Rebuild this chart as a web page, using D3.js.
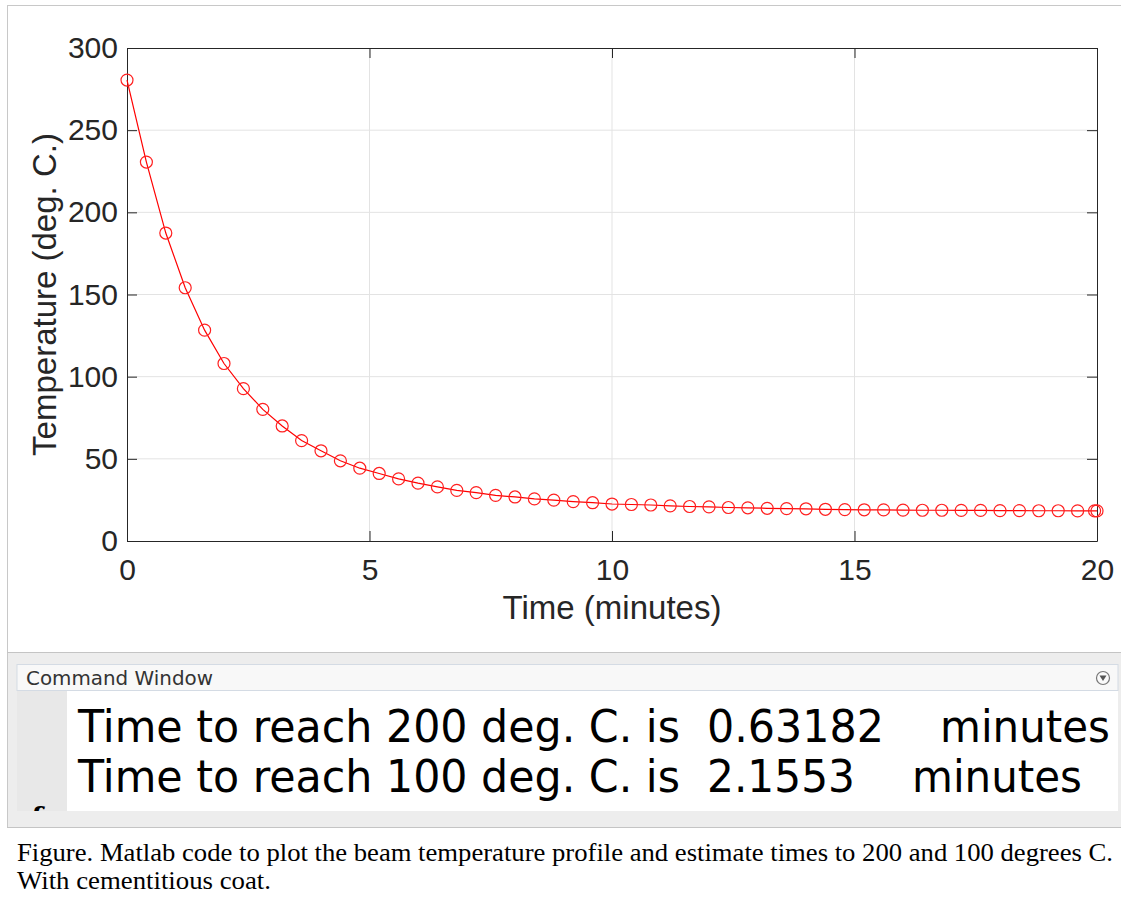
<!DOCTYPE html>
<html>
<head>
<meta charset="utf-8">
<script src="https://cdn.jsdelivr.net/npm/d3@7"></script>
<style>
  body { margin: 0; background: #fff; }
  svg { display: block; }
</style>
</head>
<body>
<div class="main"></div>
<script>
// data
var timeMin = [0, 0.4, 0.8, 1.2, 1.6, 2.0, 2.4, 2.8, 3.2, 3.6, 4.0, 4.4, 4.8, 5.2, 5.6, 6.0,
               6.4, 6.8, 7.2, 7.6, 8.0, 8.4, 8.8, 9.2, 9.6, 10.0, 10.4, 10.8, 11.2, 11.6, 12.0,
               12.4, 12.8, 13.2, 13.6, 14.0, 14.4, 14.8, 15.2, 15.6, 16.0, 16.4, 16.8, 17.2,
               17.6, 18.0, 18.4, 18.8, 19.2, 19.6, 19.95, 20];
var tempC = [280.5, 230.6, 187.4, 154.1, 128.3, 108.0, 92.7, 80.1, 70.0, 61.1, 54.9, 48.8, 44.3,
             41.1, 37.8, 35.2, 32.9, 30.8, 29.4, 27.8, 26.8, 25.6, 24.9, 24.0, 23.3, 22.5, 22.2,
             21.9, 21.4, 21.0, 20.8, 20.4, 20.2, 19.9, 19.7, 19.6, 19.3, 19.1, 19.0, 18.9, 18.8,
             18.7, 18.7, 18.6, 18.6, 18.5, 18.5, 18.4, 18.4, 18.3, 18.3, 18.3];
var xTicks = [0, 5, 10, 15, 20];
var yTicks = [0, 50, 100, 150, 200, 250, 300];
var cmdLines = [
  {text: "Time to reach 200 deg. C. is", num: "0.63182", unit: "minutes"},
  {text: "Time to reach 100 deg. C. is", num: "2.1553", unit: "minutes"}
];
var captionLines = [
  "Figure. Matlab code to plot the beam temperature profile and estimate times to 200 and 100 degrees C.",
  "With cementitious coat."
];

var points = timeMin.map(function(t, i) { return {t: t, v: tempC[i]}; });

const W = 1121, H = 903;
const plot = {left: 127, right: 1097, top: 48, bottom: 541};
const axisColor = "#262626";
const tickFont = "Liberation Sans, Arial, Helvetica, sans-serif";

var svg = d3.select(".main").append("svg")
    .attr("width", W)
    .attr("height", H);

// outer frame of the screenshot
svg.append("line").attr("x1", 7).attr("x2", W).attr("y1", 5.5).attr("y2", 5.5)
    .style("stroke", "#c8c8c8");
svg.append("line").attr("x1", 7.5).attr("x2", 7.5).attr("y1", 5).attr("y2", 828)
    .style("stroke", "#c8c8c8");

var x = d3.scaleLinear().domain([0, 20]).range([plot.left, plot.right]);
var y = d3.scaleLinear().domain([0, 300]).range([plot.bottom, plot.top]);

// grid
svg.append("g")
    .selectAll("line")
    .data(xTicks.slice(1, -1))
    .enter()
    .append("line")
    .attr("x1", function(d) { return x(d); })
    .attr("x2", function(d) { return x(d); })
    .attr("y1", plot.top)
    .attr("y2", plot.bottom)
    .style("stroke", "#e3e3e3");
svg.append("g")
    .selectAll("line")
    .data(yTicks.slice(1, -1))
    .enter()
    .append("line")
    .attr("x1", plot.left)
    .attr("x2", plot.right)
    .attr("y1", function(d) { return y(d); })
    .attr("y2", function(d) { return y(d); })
    .style("stroke", "#e3e3e3");

// axes, ticks pointing in, box on all sides
var xAxisB = d3.axisBottom(x).tickValues(xTicks).tickSizeInner(-10).tickSizeOuter(0).tickPadding(18);
var xAxisT = d3.axisTop(x).tickValues(xTicks).tickSizeInner(-10).tickSizeOuter(0).tickFormat("");
var yAxisL = d3.axisLeft(y).tickValues(yTicks).tickSizeInner(-10).tickSizeOuter(0).tickPadding(9);
var yAxisR = d3.axisRight(y).tickValues(yTicks).tickSizeInner(-10).tickSizeOuter(0).tickFormat("");

function styleAxis(g) {
  g.select(".domain").style("stroke", axisColor);
  g.selectAll(".tick line").style("stroke", axisColor);
  g.selectAll(".tick text")
      .style("fill", axisColor)
      .style("font-family", tickFont)
      .style("font-size", "30px");
}

svg.append("g").attr("transform", "translate(0," + plot.bottom + ")").call(xAxisB).call(styleAxis);
svg.append("g").attr("transform", "translate(0," + plot.top + ")").call(xAxisT).call(styleAxis);
svg.append("g").attr("transform", "translate(" + plot.left + ",0)").call(yAxisL).call(styleAxis);
svg.append("g").attr("transform", "translate(" + plot.right + ",0)").call(yAxisR).call(styleAxis);

// axis labels
svg.append("text")
    .attr("x", (plot.left + plot.right) / 2)
    .attr("y", 619)
    .attr("text-anchor", "middle")
    .text("Time (minutes)")
    .style("fill", axisColor)
    .style("font-family", tickFont)
    .style("font-size", "33px");

svg.append("text")
    .attr("transform", "translate(56," + ((plot.top + plot.bottom) / 2) + ") rotate(-90)")
    .attr("text-anchor", "middle")
    .text("Temperature (deg. C.)")
    .style("fill", axisColor)
    .style("font-family", tickFont)
    .style("font-size", "33px");

// line + circle markers
var line = d3.line()
    .x(function(d) { return x(d.t); })
    .y(function(d) { return y(d.v); });

svg.append("path")
    .datum(points)
    .attr("d", line)
    .style("fill", "none")
    .style("stroke", "#ff0000")
    .style("stroke-width", 1.2);

svg.append("g")
    .selectAll("circle")
    .data(points)
    .enter()
    .append("circle")
    .attr("cx", function(d) { return x(d.t); })
    .attr("cy", function(d) { return y(d.v); })
    .attr("r", 6)
    .style("fill", "none")
    .style("stroke", "#ff2020")
    .style("stroke-width", 1.2);

// command window panel
svg.append("line").attr("x1", 7).attr("x2", W).attr("y1", 652.5).attr("y2", 652.5)
    .style("stroke", "#c4c4c4");
svg.append("rect")
    .attr("x", 8).attr("y", 653).attr("width", W - 8).attr("height", 174)
    .style("fill", "#ededed");
svg.append("line").attr("x1", 7).attr("x2", W).attr("y1", 827.5).attr("y2", 827.5)
    .style("stroke", "#c4c4c4");

// header bar
svg.append("rect")
    .attr("x", 17).attr("y", 664.5).attr("width", 1101).attr("height", 26)
    .style("fill", "#f8f8f8")
    .style("stroke", "#d4dbe4");
svg.append("text")
    .attr("x", 26).attr("y", 684.5)
    .attr("textLength", 187)
    .attr("lengthAdjust", "spacingAndGlyphs")
    .text("Command Window")
    .style("fill", "#333")
    .style("font-family", "DejaVu Sans, sans-serif")
    .style("font-size", "19px");

// little dropdown icon
svg.append("circle").attr("cx", 1103).attr("cy", 678).attr("r", 6.5)
    .style("fill", "#fafafa").style("stroke", "#777").style("stroke-width", 1.2);
svg.append("path").attr("d", "M1099.5,675.5 L1106.5,675.5 L1103,681 Z").style("fill", "#555");

// content area with gutter
svg.append("rect")
    .attr("x", 17).attr("y", 691).attr("width", 50).attr("height", 120)
    .style("fill", "#e8e8e8");
svg.append("rect")
    .attr("x", 67).attr("y", 691).attr("width", 1051).attr("height", 120)
    .style("fill", "#ffffff");

// clipped "fx" prompt
svg.append("clipPath").attr("id", "gutterClip")
    .append("rect").attr("x", 17).attr("y", 691).attr("width", 50).attr("height", 120);
svg.append("text")
    .attr("x", 30).attr("y", 826)
    .attr("clip-path", "url(#gutterClip)")
    .text("f")
    .style("font-family", "DejaVu Serif, serif")
    .style("font-style", "italic")
    .style("font-weight", "bold")
    .style("font-size", "26px");

var cmdFont = "DejaVu Sans, sans-serif";
var cmdY = [742, 792];
var textLen = [602, 602];
var numX = [707, 707];
var numLen = [177, 148];
var unitX = [940, 912];
var unitLen = [170, 170];

function cmdText(x0, y0, len, s) {
  svg.append("text")
      .attr("x", x0).attr("y", y0)
      .attr("textLength", len)
      .attr("lengthAdjust", "spacingAndGlyphs")
      .text(s)
      .style("fill", "#000")
      .style("font-family", cmdFont)
      .style("font-size", "44px");
}

cmdLines.forEach(function(d, i) {
  cmdText(78, cmdY[i], textLen[i], d.text);
  cmdText(numX[i], cmdY[i], numLen[i], d.num);
  cmdText(unitX[i], cmdY[i], unitLen[i], d.unit);
});

// caption
var capLen = [1096, 254];
captionLines.forEach(function(c, i) {
  svg.append("text")
      .attr("x", 17).attr("y", 861 + i * 28)
      .attr("textLength", capLen[i])
      .attr("lengthAdjust", "spacingAndGlyphs")
      .text(c)
      .style("fill", "#000")
      .style("font-family", "Liberation Serif, Times New Roman, serif")
      .style("font-size", "25px");
});
</script>
</body>
</html>
